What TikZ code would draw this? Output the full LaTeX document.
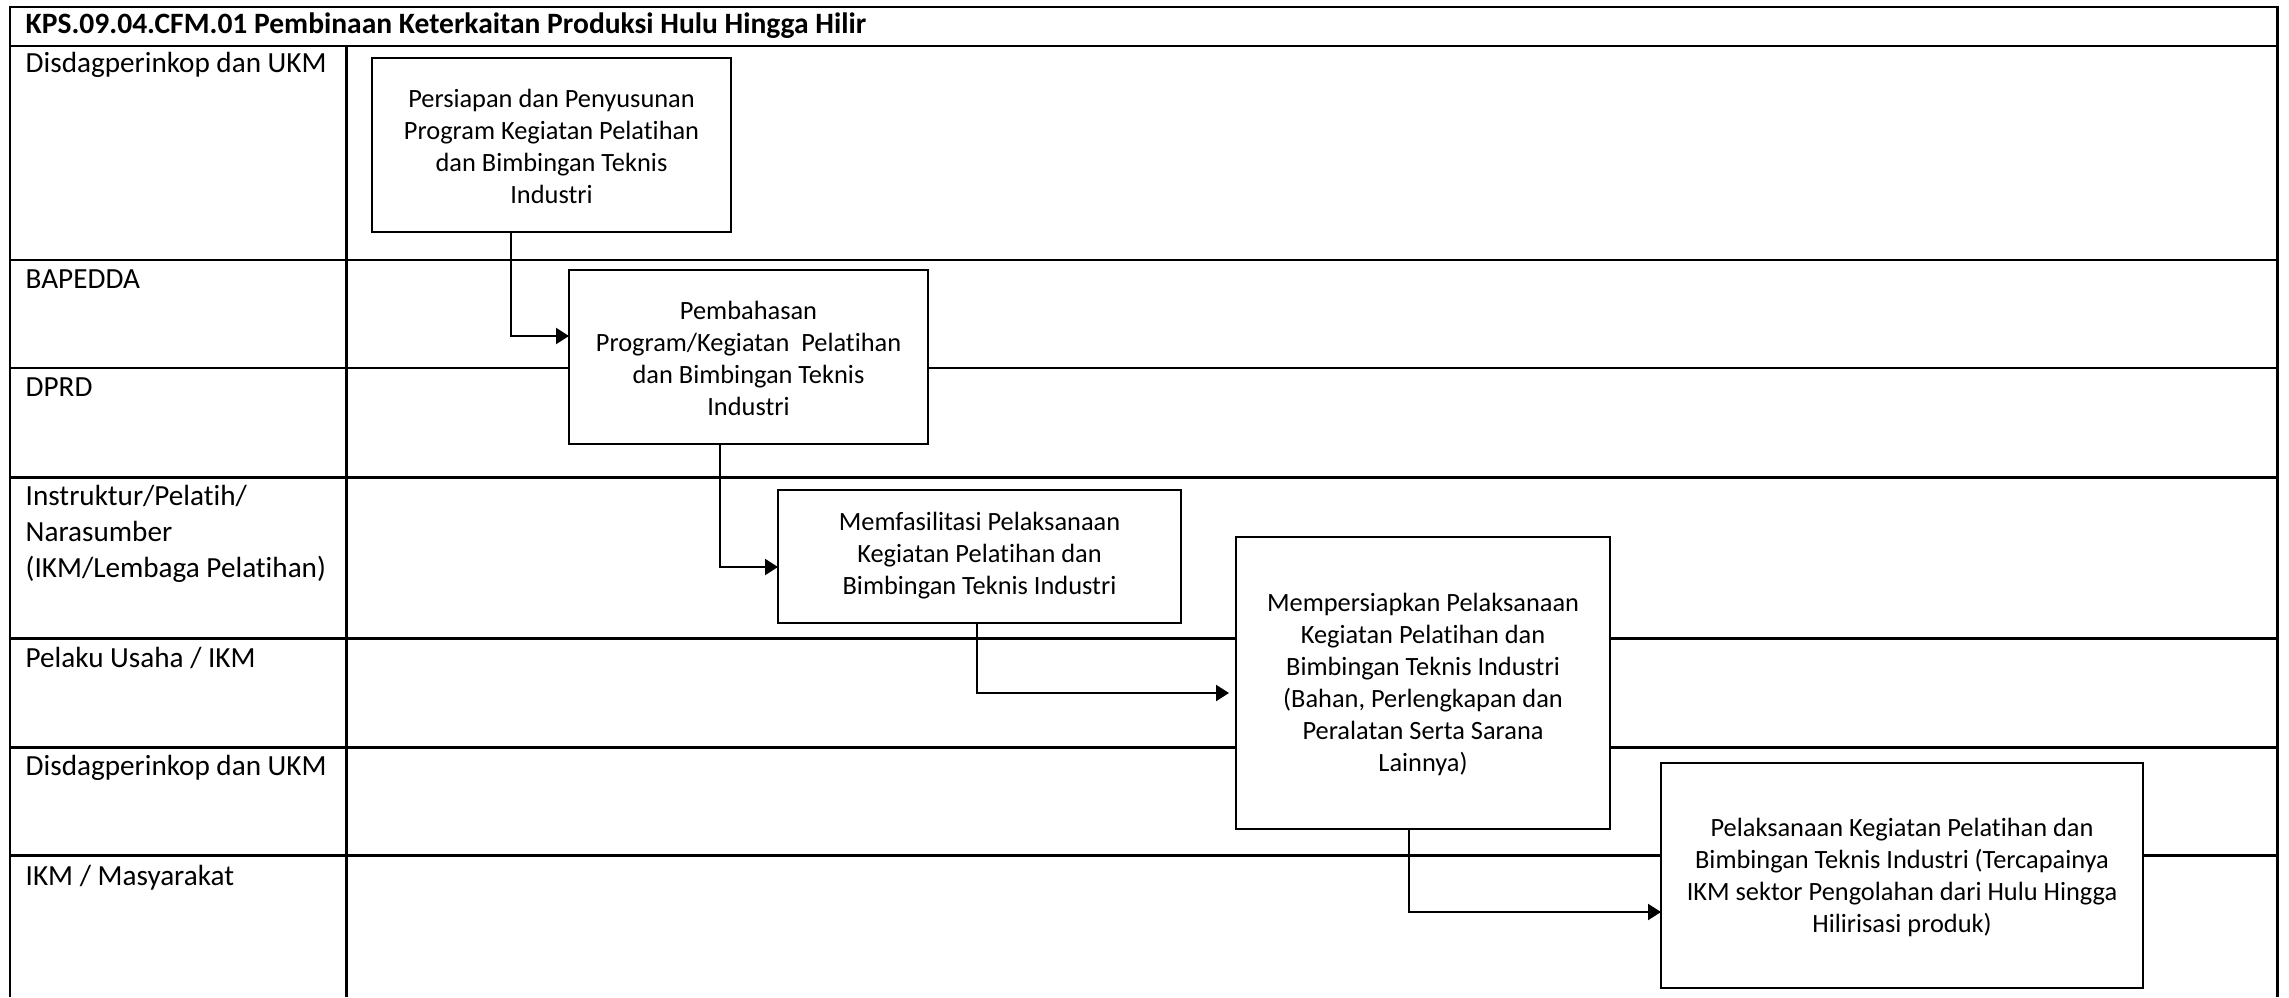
\documentclass[tikz,border=0pt]{standalone}
\usepackage{fontspec}
\setmainfont{Carlito}[Ligatures={NoCommon}]
\usetikzlibrary{arrows.meta}
\begin{document}
\begin{tikzpicture}[x=0.01cm,y=-0.01cm,
  laneline/.style={line width=0.85pt},
  procbox/.style={draw,line width=0.6pt,fill=white},
  boxtext/.style={align=center,inner sep=0pt,font=\fontsize{7.5pt}{9.1pt}\selectfont},
  lanelabel/.style={anchor=north west,align=left,inner sep=0pt,font=\fontsize{8.3pt}{10.2pt}\selectfont},
  flow/.style={line width=0.6pt,-{Triangle[length=0.13cm,width=0.16cm]}}]
\useasboundingbox (0,0) rectangle (2289,997);
% frame and lanes
\draw[laneline] (10,997) -- (10,7) -- (2277,7) -- (2277,997);
\draw[laneline] (346,46) -- (346,997);
\foreach \yy in {46,260,368,477,638,747,855}{\draw[laneline] (10,\yy) -- (2277,\yy);}
% title
\node[anchor=west,inner sep=0pt,font=\bfseries\fontsize{8.4pt}{10pt}\selectfont] (title) at (25,26) {KPS.09.04.CFM.01 Pembinaan Keterkaitan Produksi Hulu Hingga Hilir};
% lane labels
\node[lanelabel] (l1) at (25,52) {Disdagperinkop dan UKM};
\node[lanelabel] (l2) at (25,269) {BAPEDDA};
\node[lanelabel] (l3) at (25,377) {DPRD};
\node[lanelabel] (l4) at (25,485) {Instruktur/Pelatih/\\Narasumber\\(IKM/Lembaga Pelatihan)};
\node[lanelabel] (l5) at (25,647) {Pelaku Usaha / IKM};
\node[lanelabel] (l6) at (25,755) {Disdagperinkop dan UKM};
\node[lanelabel] (l7) at (25,865) {IKM / Masyarakat};
% boxes
\draw[procbox] (372,58) rectangle (731,232);
\node[boxtext] (b1) at (551.5,146) {Persiapan dan Penyusunan\\Program Kegiatan Pelatihan\\dan Bimbingan Teknis\\Industri};
\coordinate (b1s) at (511,232);
\draw[procbox] (569,270) rectangle (928,444);
\node[boxtext] (b2) at (748.5,358) {Pembahasan\\Program/Kegiatan\ \ Pelatihan\\dan Bimbingan Teknis\\Industri};
\coordinate (b2w) at (569,336);
\coordinate (b2s) at (720,444);
\draw[procbox] (778,490) rectangle (1181,623);
\node[boxtext] (b3) at (979.5,556) {Memfasilitasi Pelaksanaan\\Kegiatan Pelatihan dan\\Bimbingan Teknis Industri};
\coordinate (b3w) at (778,567);
\coordinate (b3s) at (977,623);
\draw[procbox] (1236,537) rectangle (1610,829);
\node[boxtext] (b4) at (1423,684) {Mempersiapkan Pelaksanaan\\Kegiatan Pelatihan dan\\Bimbingan Teknis Industri\\(Bahan, Perlengkapan dan\\Peralatan Serta Sarana\\Lainnya)};
\coordinate (b4w) at (1229,693);
\coordinate (b4s) at (1409,829);
\draw[procbox] (1661,763) rectangle (2143,988);
\node[boxtext] (b5) at (1902,877) {Pelaksanaan Kegiatan Pelatihan dan\\Bimbingan Teknis Industri (Tercapainya\\IKM sektor Pengolahan dari Hulu Hingga\\Hilirisasi produk)};
\coordinate (b5w) at (1661,912);
% connectors
\draw[flow] (b1s) |- (b2w);
\draw[flow] (b2s) |- (b3w);
\draw[flow] (b3s) |- (b4w);
\draw[flow] (b4s) |- (b5w);
\end{tikzpicture}
\end{document}
